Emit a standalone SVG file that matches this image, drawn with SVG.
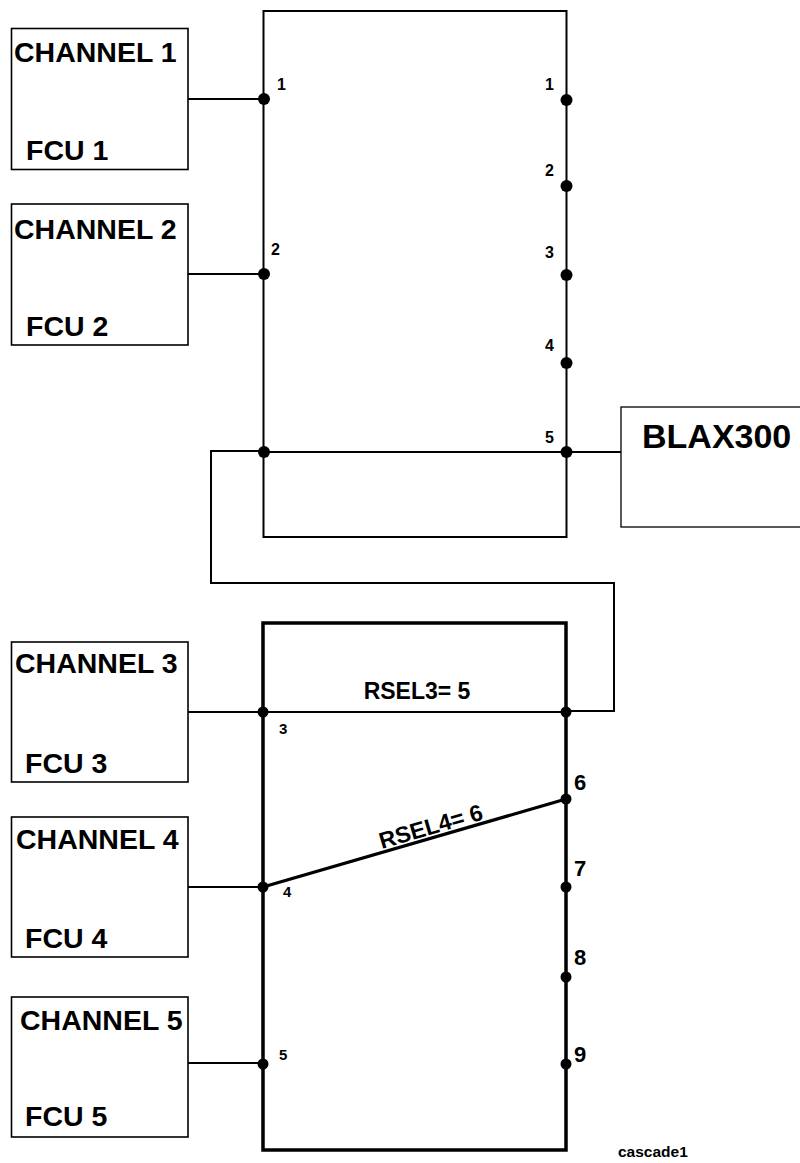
<svg xmlns="http://www.w3.org/2000/svg" width="800" height="1163" viewBox="0 0 800 1163">
<style>
.bx{fill:#fff;stroke:#000;stroke-width:1.6}
.frame{fill:none;stroke:#000;stroke-width:2}
.thick{fill:none;stroke:#000;stroke-width:3.5}
.wire{fill:none;stroke:#000;stroke-width:2}
.t{font-family:"Liberation Sans",Arial,sans-serif;font-weight:bold;fill:#000}
.big{font-size:28.5px}
.lbl{font-size:16px}
.lbl2{font-size:15px}
.lbl3{font-size:22px}
.dot{fill:#000}
</style>
<rect width="800" height="1163" fill="#fff"/>
<g id="connectors">
<line class="wire" x1="188" y1="99" x2="264" y2="99"/>
<line class="wire" x1="188" y1="274" x2="264" y2="274"/>
<line class="wire" x1="264" y1="452" x2="621" y2="452"/>
<path class="wire" d="M264,451 H211 V583 H614 V711 H566"/>
<line class="wire" x1="188" y1="712" x2="264" y2="712"/>
<line class="wire" x1="264" y1="712" x2="566" y2="712"/>
<line class="wire" x1="188" y1="887" x2="264" y2="887"/>
<line class="thick" x1="263" y1="887" x2="566" y2="799" style="stroke-width:3.2"/>
<line class="wire" x1="188" y1="1063" x2="264" y2="1063"/>
</g>
<g id="switch1">
<rect class="frame" x="263.5" y="11" width="303" height="526"/>
<circle class="dot" cx="264" cy="99" r="6"/>
<circle class="dot" cx="264" cy="274" r="6"/>
<circle class="dot" cx="264" cy="452" r="6"/>
<circle class="dot" cx="566.5" cy="100" r="6"/>
<circle class="dot" cx="566.5" cy="186" r="6"/>
<circle class="dot" cx="566.5" cy="275" r="6"/>
<circle class="dot" cx="566.5" cy="363" r="6"/>
<circle class="dot" cx="566.5" cy="452" r="6"/>
<text class="t lbl" x="277" y="90">1</text>
<text class="t lbl" x="271" y="255">2</text>
<text class="t lbl" x="545" y="90">1</text>
<text class="t lbl" x="545" y="176">2</text>
<text class="t lbl" x="545" y="258">3</text>
<text class="t lbl" x="545" y="351">4</text>
<text class="t lbl" x="545" y="443">5</text>
</g>
<g id="switch2">
<rect class="thick" x="263" y="623" width="303" height="527"/>
<circle class="dot" cx="263" cy="712" r="5.5"/>
<circle class="dot" cx="263" cy="887" r="5.5"/>
<circle class="dot" cx="263" cy="1064" r="5.5"/>
<circle class="dot" cx="566" cy="712" r="5.5"/>
<circle class="dot" cx="566" cy="799" r="5.5"/>
<circle class="dot" cx="566" cy="887" r="5.5"/>
<circle class="dot" cx="566" cy="977" r="5.5"/>
<circle class="dot" cx="566" cy="1064" r="5.5"/>
<text class="t lbl2" x="279" y="734">3</text>
<text class="t lbl2" x="283" y="897">4</text>
<text class="t lbl2" x="279" y="1060">5</text>
<text class="t lbl3" x="574" y="790">6</text>
<text class="t lbl3" x="574" y="876">7</text>
<text class="t lbl3" x="574" y="965">8</text>
<text class="t lbl3" x="574" y="1062">9</text>
<text class="t" style="font-size:23px" x="417" y="699" text-anchor="middle">RSEL3= 5</text>
<text class="t" style="font-size:23px" x="433" y="834" text-anchor="middle" transform="rotate(-16.2 433 834)">RSEL4= 6</text>
</g>
<g id="fcu1">
<rect class="bx" x="11.5" y="28.5" width="176.5" height="141"/>
<text class="t big" x="14" y="62">CHANNEL 1</text>
<text class="t big" x="26" y="160">FCU 1</text>
</g>
<g id="fcu2">
<rect class="bx" x="11.5" y="204" width="176.5" height="141"/>
<text class="t big" x="14" y="239">CHANNEL 2</text>
<text class="t big" x="26" y="336">FCU 2</text>
</g>
<g id="fcu3">
<rect class="bx" x="11.5" y="642" width="176.5" height="140"/>
<text class="t big" x="15" y="673">CHANNEL 3</text>
<text class="t big" x="25" y="773">FCU 3</text>
</g>
<g id="fcu4">
<rect class="bx" x="11.5" y="817" width="176.5" height="140"/>
<text class="t big" x="16" y="849">CHANNEL 4</text>
<text class="t big" x="25" y="948">FCU 4</text>
</g>
<g id="fcu5">
<rect class="bx" x="11.5" y="997" width="176.5" height="140"/>
<text class="t big" x="20" y="1030">CHANNEL 5</text>
<text class="t big" x="25" y="1126">FCU 5</text>
</g>
<g id="blax300">
<rect class="bx" x="621" y="407" width="200" height="120" style="stroke-width:1.3"/>
<text class="t" style="font-size:34px" x="642" y="448">BLAX300</text>
</g>
<text class="t" style="font-size:15.5px" x="618" y="1157">cascade1</text>
</svg>
